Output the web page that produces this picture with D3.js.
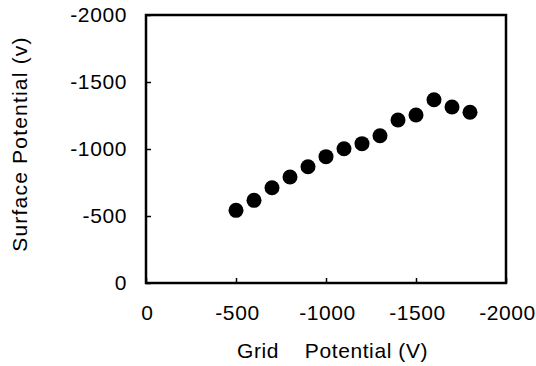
<!DOCTYPE html>
<html>
<head>
    <meta charset="utf-8">
    <script src="https://d3js.org/d3.v7.min.js"></script>
    <style>
        body { margin: 0; background: #fff; }
        svg { display: block; }
        text { font-family: "Liberation Sans", Arial, sans-serif; fill: #000; }
    </style>
</head>
<body>
    <svg width="536" height="366"></svg>
    <script>
        // data
        const gridPotential = [-500, -600, -700, -800, -900, -1000, -1100, -1200, -1300, -1400, -1500, -1600, -1700, -1800];
        const surfacePotential = [-542, -617, -711, -791, -868, -943, -1002, -1040, -1099, -1216, -1254, -1368, -1313, -1274];
        const xTicks = [0, -500, -1000, -1500, -2000];
        const yTicks = [0, -500, -1000, -1500, -2000];

        const margin = {top: 15, right: 30, bottom: 83, left: 146};
        const width = 536 - margin.left - margin.right,
              height = 366 - margin.top - margin.bottom;

        const svg = d3.select("svg");
        const g = svg.append("g")
            .attr("transform", `translate(${margin.left},${margin.top})`);

        const x = d3.scaleLinear().domain([0, -2000]).range([0, width]);
        const y = d3.scaleLinear().domain([0, -2000]).range([height, 0]);

        // frame
        g.append("rect")
            .attr("width", width)
            .attr("height", height)
            .attr("fill", "none")
            .attr("stroke", "#000")
            .attr("stroke-width", 2.5);

        // x axis, ticks pointing inward
        const xAxis = g.append("g")
            .attr("transform", `translate(0,${height})`)
            .call(d3.axisBottom(x).tickValues(xTicks).tickFormat(d => String(d)).tickSizeInner(-5).tickSizeOuter(0));
        xAxis.select(".domain").remove();
        xAxis.selectAll(".tick line").attr("stroke-width", 1.5);
        xAxis.selectAll(".tick text")
            .attr("y", 37)
            .attr("dy", 0)
            .attr("dx", 1)
            .style("font-size", "21px")
            .style("letter-spacing", "0.6px");

        // y axis
        const yAxis = g.append("g")
            .call(d3.axisLeft(y).tickValues(yTicks).tickFormat(d => String(d)).tickSizeInner(-5).tickSizeOuter(0));
        yAxis.select(".domain").remove();
        yAxis.selectAll(".tick line").attr("stroke-width", 1.5);
        yAxis.selectAll(".tick text")
            .attr("x", -19)
            .style("font-size", "21px")
            .style("letter-spacing", "0.6px");

        // points
        g.selectAll(".pt")
            .data(gridPotential)
            .enter().append("circle")
            .attr("class", "pt")
            .attr("cx", d => x(d))
            .attr("cy", (d, i) => y(surfacePotential[i]))
            .attr("r", 7.5)
            .attr("fill", "#000");

        // axis titles
        svg.append("text")
            .attr("x", 237)
            .attr("y", 358)
            .style("font-size", "21px")
            .style("letter-spacing", "0.6px")
            .style("white-space", "pre")
            .text("Grid    Potential (V)");

        svg.append("text")
            .attr("transform", "translate(27,144) rotate(-90)")
            .attr("text-anchor", "middle")
            .style("font-size", "21px")
            .style("letter-spacing", "1.2px")
            .text("Surface Potential (v)");
    </script>
</body>
</html>
